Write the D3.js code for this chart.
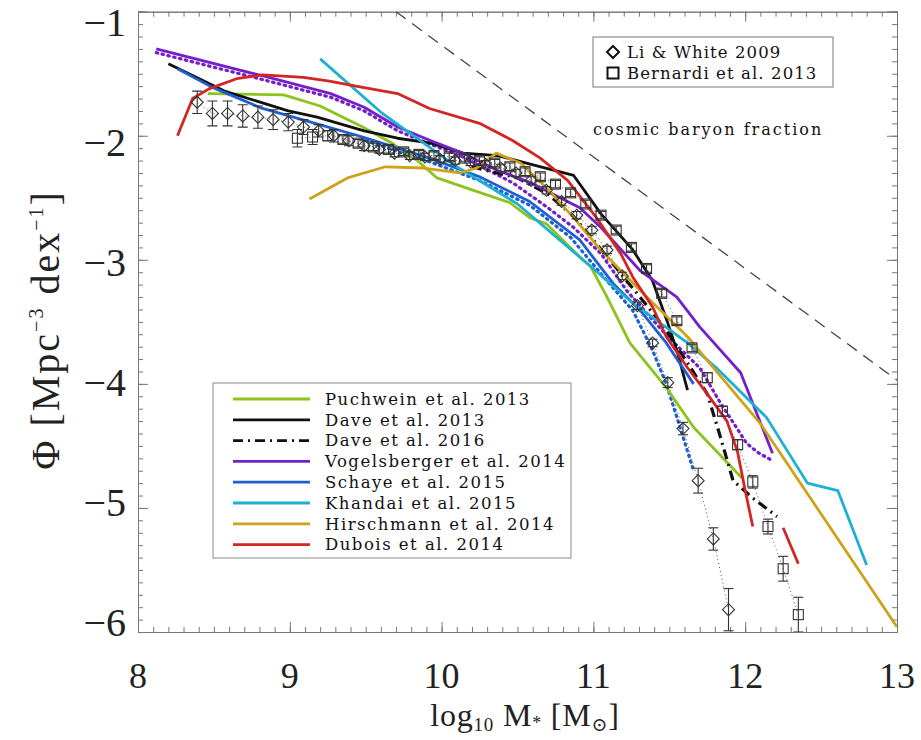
<!DOCTYPE html>
<html><head><meta charset="utf-8">
<script src="https://cdn.jsdelivr.net/npm/d3@7"></script>
<style>body{margin:0;background:#fff}</style>
</head><body>
<svg id="c" width="921" height="740"></svg>
<script>
// ---------- DATA ----------
const xTickValues = [8, 9, 10, 11, 12, 13];
const yTickValues = [-1, -2, -3, -4, -5, -6];

const puchweinM   = [8.46, 8.96, 9.20, 9.48, 9.66, 9.84, 9.97, 10.21, 10.45, 10.58, 10.69, 10.93, 10.98, 11.09, 11.24, 11.48, 11.66, 11.98];
const puchweinPhi = [-1.66, -1.67, -1.76, -1.93, -2.05, -2.20, -2.34, -2.44, -2.54, -2.66, -2.71, -3.00, -3.05, -3.30, -3.67, -4.03, -4.35, -4.76];

const dave13M   = [8.20, 8.57, 8.99, 9.18, 9.49, 9.71, 9.93, 10.14, 10.37, 10.59, 10.87, 11.05, 11.26, 11.39, 11.49, 11.55, 11.62];
const dave13Phi = [-1.42, -1.64, -1.80, -1.85, -1.96, -2.02, -2.06, -2.14, -2.16, -2.23, -2.32, -2.63, -2.92, -3.17, -3.51, -3.73, -4.05];

const dave16M   = [10.20, 10.50, 10.70, 10.87, 11.04, 11.18, 11.36, 11.48, 11.62, 11.75, 11.83, 11.92, 12.05, 12.21];
const dave16Phi = [-2.25, -2.34, -2.47, -2.65, -2.90, -3.11, -3.38, -3.57, -3.83, -4.08, -4.40, -4.78, -4.92, -5.07];

const vogelM   = [8.12, 8.83, 9.27, 9.49, 9.71, 9.93, 10.14, 10.37, 10.59, 10.91, 11.05, 11.31, 11.55, 11.70, 11.97, 12.18];
const vogelPhi = [-1.30, -1.52, -1.66, -1.77, -1.93, -2.04, -2.14, -2.28, -2.38, -2.58, -2.74, -3.09, -3.30, -3.54, -3.91, -4.56];

const vogelDotM   = [8.12, 8.83, 9.27, 9.49, 9.71, 9.93, 10.14, 10.47, 10.70, 10.87, 11.05, 11.22, 11.49, 11.70, 11.84, 12.01, 12.08, 12.18];
const vogelDotPhi = [-1.33, -1.55, -1.69, -1.80, -1.96, -2.07, -2.17, -2.38, -2.58, -2.74, -2.95, -3.25, -3.62, -3.87, -4.16, -4.48, -4.55, -4.62];

const schayeM   = [8.26, 8.49, 8.82, 9.11, 9.48, 9.92, 10.25, 10.58, 10.91, 11.13, 11.31, 11.48, 11.66];
const schayePhi = [-1.46, -1.61, -1.78, -1.88, -2.01, -2.18, -2.33, -2.53, -2.84, -3.19, -3.41, -3.67, -4.00];

const schayeDotM   = [9.50, 9.92, 10.25, 10.58, 10.85, 11.09, 11.26, 11.39, 11.48, 11.55, 11.66];
const schayeDotPhi = [-2.04, -2.21, -2.36, -2.56, -2.82, -3.17, -3.41, -3.73, -4.00, -4.27, -4.70];

const khandaiM   = [9.20, 9.61, 10.10, 10.50, 10.96, 11.26, 11.62, 11.81, 12.14, 12.41, 12.61, 12.80];
const khandaiPhi = [-1.38, -1.82, -2.25, -2.55, -3.03, -3.35, -3.67, -3.87, -4.27, -4.80, -4.86, -5.46];

const hirschM   = [9.13, 9.38, 9.63, 9.88, 10.12, 10.23, 10.36, 10.52, 10.69, 10.87, 11.04, 11.31, 11.62, 11.88, 12.10, 13.00];
const hirschPhi = [-2.51, -2.34, -2.25, -2.26, -2.30, -2.26, -2.14, -2.22, -2.42, -2.66, -2.91, -3.25, -3.62, -4.00, -4.32, -5.96];

const duboisM   = [8.26, 8.36, 8.47, 8.65, 8.82, 9.09, 9.26, 9.48, 9.71, 9.92, 10.25, 10.47, 10.65, 10.83, 11.02, 11.18, 11.26, 11.39, 11.48, 11.62, 11.75, 11.88, 11.95, 12.00, 12.05];
const duboisPhi = [-2.00, -1.70, -1.62, -1.54, -1.51, -1.53, -1.56, -1.61, -1.66, -1.78, -1.90, -2.04, -2.18, -2.36, -2.66, -2.95, -3.14, -3.38, -3.62, -3.87, -4.08, -4.30, -4.55, -4.86, -5.15];
const duboisTailM   = [12.25, 12.35];
const duboisTailPhi = [-5.16, -5.45];

const liWhiteM   = [8.39, 8.49, 8.59, 8.69, 8.79, 8.89, 8.99, 9.09, 9.19, 9.29, 9.39, 9.49, 9.59, 9.69, 9.79, 9.89, 9.99, 10.09, 10.19, 10.29, 10.39, 10.49, 10.59, 10.69, 10.79, 10.89, 10.99, 11.09, 11.19, 11.29, 11.39, 11.49, 11.59, 11.69, 11.79, 11.89];
const liWhitePhi = [-1.73, -1.82, -1.82, -1.84, -1.85, -1.87, -1.89, -1.93, -1.96, -2.00, -2.04, -2.08, -2.11, -2.14, -2.16, -2.17, -2.19, -2.20, -2.21, -2.23, -2.26, -2.30, -2.36, -2.44, -2.53, -2.64, -2.76, -2.92, -3.13, -3.37, -3.67, -3.99, -4.36, -4.78, -5.25, -5.82];
const liWhiteErr = [0.09, 0.10, 0.10, 0.09, 0.09, 0.08, 0.07, 0.06, 0.05, 0.05, 0.04, 0.04, 0.03, 0.03, 0.03, 0.03, 0.03, 0.03, 0.03, 0.03, 0.03, 0.03, 0.03, 0.03, 0.03, 0.03, 0.03, 0.03, 0.03, 0.03, 0.03, 0.04, 0.05, 0.10, 0.09, 0.17];

const bernardiM   = [9.05, 9.15, 9.25, 9.35, 9.45, 9.55, 9.65, 9.75, 9.85, 9.95, 10.05, 10.15, 10.25, 10.35, 10.45, 10.55, 10.65, 10.75, 10.85, 10.95, 11.05, 11.15, 11.25, 11.35, 11.45, 11.55, 11.65, 11.75, 11.85, 11.95, 12.05, 12.15, 12.25, 12.35];
const bernardiPhi = [-2.02, -2.01, -2.00, -2.03, -2.06, -2.09, -2.11, -2.13, -2.15, -2.16, -2.17, -2.18, -2.20, -2.22, -2.25, -2.29, -2.33, -2.39, -2.46, -2.55, -2.64, -2.76, -2.90, -3.07, -3.27, -3.49, -3.71, -3.95, -4.22, -4.49, -4.79, -5.15, -5.49, -5.86];
const bernardiErr = [0.07, 0.06, 0.04, 0.03, 0.03, 0.03, 0.03, 0.03, 0.03, 0.03, 0.03, 0.03, 0.03, 0.03, 0.03, 0.03, 0.03, 0.03, 0.03, 0.03, 0.03, 0.03, 0.03, 0.03, 0.03, 0.03, 0.03, 0.04, 0.04, 0.04, 0.05, 0.06, 0.10, 0.14];

const baryonM   = [9.70, 13.00];
const baryonPhi = [-1.00, -3.97];

// ---------- STYLE / LAYOUT ----------
const C = {
  lime: '#8cc41c', black: '#111', purple: '#7420c8', blue: '#1f5fd2',
  cyan: '#1cb0d2', gold: '#cfa21c', red: '#d42424'
};
const series = [
  {name: 'Puchwein et al. 2013', m: puchweinM, phi: puchweinPhi, color: C.lime, dash: null},
  {name: 'Dave et al. 2013', m: dave13M, phi: dave13Phi, color: C.black, dash: null},
  {name: 'Dave et al. 2016', m: dave16M, phi: dave16Phi, color: C.black, dash: '10,5,2,5'},
  {name: 'Vogelsberger et al. 2014', m: vogelM, phi: vogelPhi, color: C.purple, dash: null},
  {name: 'Schaye et al. 2015', m: schayeM, phi: schayePhi, color: C.blue, dash: null},
  {name: 'Khandai et al. 2015', m: khandaiM, phi: khandaiPhi, color: C.cyan, dash: null},
  {name: 'Hirschmann et al. 2014', m: hirschM, phi: hirschPhi, color: C.gold, dash: null},
  {name: 'Dubois et al. 2014', m: duboisM, phi: duboisPhi, color: C.red, dash: null}
];
const extraLines = [
  {m: vogelDotM, phi: vogelDotPhi, color: C.purple, dash: '1.5,4.5', width: 3.2},
  {m: schayeDotM, phi: schayeDotPhi, color: C.blue, dash: '1.5,4.5', width: 3.2},
  {m: duboisTailM, phi: duboisTailPhi, color: C.red, dash: null, width: 2.8}
];

const svg = d3.select('#c');
const pL = 138, pR = 897, pT = 11.7, pB = 632;
const x = d3.scaleLinear().domain([8, 13]).range([pL, pR]);
const y = d3.scaleLinear().domain([-1, -6]).range([pT, pB]);
const yLab = d3.scaleLinear().domain([-1, -6]).range([22, 622]);

svg.append('defs').append('clipPath').attr('id', 'clip')
  .append('rect').attr('x', pL).attr('y', pT).attr('width', pR - pL).attr('height', pB - pT);

const axisColor = '#777';
function drawAxis(gen, transform, vals, size) {
  const g = svg.append('g').attr('transform', transform)
    .call(gen.tickValues(vals).tickSize(size).tickFormat(''));
  g.select('.domain').attr('stroke', axisColor);
  g.selectAll('.tick line').attr('stroke', axisColor).attr('stroke-width', 1);
}
const minorX = d3.range(80, 131).map(d => d / 10);
const minorY = d3.range(-60, -9).map(d => d / 10);
drawAxis(d3.axisBottom(x), `translate(0,${pB})`, minorX, -5);
drawAxis(d3.axisBottom(x), `translate(0,${pB})`, xTickValues, -10);
drawAxis(d3.axisTop(x), `translate(0,${pT})`, minorX, -5);
drawAxis(d3.axisTop(x), `translate(0,${pT})`, xTickValues, -10);
drawAxis(d3.axisLeft(y), `translate(${pL},0)`, minorY, -5);
drawAxis(d3.axisLeft(y), `translate(${pL},0)`, yTickValues, -10);
drawAxis(d3.axisRight(y), `translate(${pR},0)`, minorY, -5);
drawAxis(d3.axisRight(y), `translate(${pR},0)`, yTickValues, -10);

const tickFont = "'Liberation Serif', 'DejaVu Serif', serif";
svg.append('g').selectAll('text').data(xTickValues).join('text')
  .attr('x', d => x(d)).attr('y', 688)
  .attr('text-anchor', 'middle').attr('font-family', tickFont).attr('font-size', 36)
  .attr('fill', '#222').text(d => d);
svg.append('g').selectAll('text').data(yTickValues).join('text')
  .attr('x', 126).attr('y', d => yLab(d)).attr('dy', '0.35em')
  .attr('text-anchor', 'end').attr('font-family', tickFont).attr('font-size', 40)
  .attr('fill', '#222').text(d => '\u2212' + Math.abs(d));

// axis titles
const xt = svg.append('text').attr('x', 525).attr('y', 726).attr('text-anchor', 'middle')
  .attr('font-family', tickFont).attr('font-size', 32).attr('letter-spacing', 0.8).attr('fill', '#222');
xt.append('tspan').text('log');
xt.append('tspan').attr('font-size', 19).attr('dy', 5).text('10');
xt.append('tspan').attr('dy', -5).text(' M');
xt.append('tspan').attr('font-size', 18).attr('dy', 3).text('*');
xt.append('tspan').attr('dy', -3).text(' [M');
xt.append('tspan').attr('font-size', 19).attr('dy', 5).text('\u2299');
xt.append('tspan').attr('dy', -5).text(']');

const yt = svg.append('text').attr('transform', 'translate(59,330) rotate(-90)').attr('text-anchor', 'middle')
  .attr('font-family', tickFont).attr('font-size', 40).attr('letter-spacing', 2).attr('fill', '#222');
yt.append('tspan').text('\u03A6 [Mpc');
yt.append('tspan').attr('font-size', 20).attr('dy', -16).text('\u22123');
yt.append('tspan').attr('dy', 16).text(' dex');
yt.append('tspan').attr('font-size', 20).attr('dy', -16).text('\u22121');
yt.append('tspan').attr('dy', 16).text(']');

// plot area
const plot = svg.append('g').attr('clip-path', 'url(#clip)');
const line = d3.line().x(d => x(d[0])).y(d => y(d[1]));
const zip = (a, b) => a.map((v, i) => [v, b[i]]);

plot.append('path').attr('d', line(zip(baryonM, baryonPhi)))
  .attr('fill', 'none').attr('stroke', '#444').attr('stroke-width', 1.3).attr('stroke-dasharray', '12,8');

plot.append('path').attr('d', line(zip(liWhiteM, liWhitePhi)))
  .attr('fill', 'none').attr('stroke', '#555').attr('stroke-width', 1).attr('stroke-dasharray', '1,3');
plot.append('path').attr('d', line(zip(bernardiM, bernardiPhi)))
  .attr('fill', 'none').attr('stroke', '#555').attr('stroke-width', 1).attr('stroke-dasharray', '1,3');

extraLines.forEach(s => {
  plot.append('path').attr('d', line(zip(s.m, s.phi)))
    .attr('fill', 'none').attr('stroke', s.color).attr('stroke-width', s.width)
    .attr('stroke-linecap', s.dash ? 'round' : 'butt')
    .attr('stroke-dasharray', s.dash);
});
series.forEach(s => {
  plot.append('path').attr('d', line(zip(s.m, s.phi)))
    .attr('fill', 'none').attr('stroke', s.color).attr('stroke-width', s.dash ? 3.2 : 2.8)
    .attr('stroke-linejoin', 'round')
    .attr('stroke-dasharray', s.dash);
});

function drawPoints(ms, ps, es, shape) {
  const g = plot.append('g').attr('stroke', '#333').attr('fill', 'none').attr('stroke-width', 1.1);
  ms.forEach((m, i) => {
    const cx = x(m), cy = y(ps[i]);
    const y1 = y(ps[i] + es[i]), y2 = y(ps[i] - es[i]);
    g.append('line').attr('x1', cx).attr('x2', cx).attr('y1', y1).attr('y2', y2);
    g.append('line').attr('x1', cx - 5).attr('x2', cx + 5).attr('y1', y1).attr('y2', y1);
    g.append('line').attr('x1', cx - 5).attr('x2', cx + 5).attr('y1', y2).attr('y2', y2);
    if (shape === 'diamond') {
      g.append('path').attr('d', `M${cx},${cy - 6}L${cx + 6},${cy}L${cx},${cy + 6}L${cx - 6},${cy}Z`);
    } else {
      g.append('rect').attr('x', cx - 5).attr('y', cy - 5).attr('width', 10).attr('height', 10);
    }
  });
}
drawPoints(liWhiteM, liWhitePhi, liWhiteErr, 'diamond');
drawPoints(bernardiM, bernardiPhi, bernardiErr, 'square');

const legFont = "'DejaVu Serif', 'Liberation Serif', serif";
svg.append('text').attr('x', 593).attr('y', 135).attr('font-family', legFont)
  .attr('font-size', 16).attr('letter-spacing', 2).attr('fill', '#111').text('cosmic baryon fraction');

const sl = svg.append('g');
sl.append('rect').attr('x', 593).attr('y', 37).attr('width', 240).attr('height', 50)
  .attr('fill', '#fff').attr('stroke', '#777');
sl.append('path').attr('d', 'M613,46L619,52L613,58L607,52Z').attr('fill', 'none').attr('stroke', '#111').attr('stroke-width', 2);
sl.append('rect').attr('x', 607.5).attr('y', 67.5).attr('width', 11).attr('height', 11).attr('fill', 'none').attr('stroke', '#111').attr('stroke-width', 2);
sl.append('text').attr('x', 627).attr('y', 58).attr('font-family', legFont).attr('font-size', 16.5).attr('letter-spacing', 1.1)
  .attr('fill', '#111').text('Li & White 2009');
sl.append('text').attr('x', 627).attr('y', 79).attr('font-family', legFont).attr('font-size', 16.5).attr('letter-spacing', 1.1)
  .attr('fill', '#111').text('Bernardi et al. 2013');

const lg = svg.append('g');
lg.append('rect').attr('x', 213).attr('y', 383).attr('width', 358).attr('height', 175)
  .attr('fill', '#fff').attr('stroke', '#888');
series.forEach((s, i) => {
  const yy = 399 + i * 20.8;
  lg.append('line').attr('x1', 233).attr('x2', 310).attr('y1', yy).attr('y2', yy)
    .attr('stroke', s.color).attr('stroke-width', 2.8).attr('stroke-dasharray', s.dash);
  lg.append('text').attr('x', 325).attr('y', yy).attr('dy', '0.35em')
    .attr('font-family', legFont).attr('font-size', 16.5).attr('letter-spacing', 1.5)
    .attr('fill', '#111').text(s.name);
});
</script>
</body></html>
